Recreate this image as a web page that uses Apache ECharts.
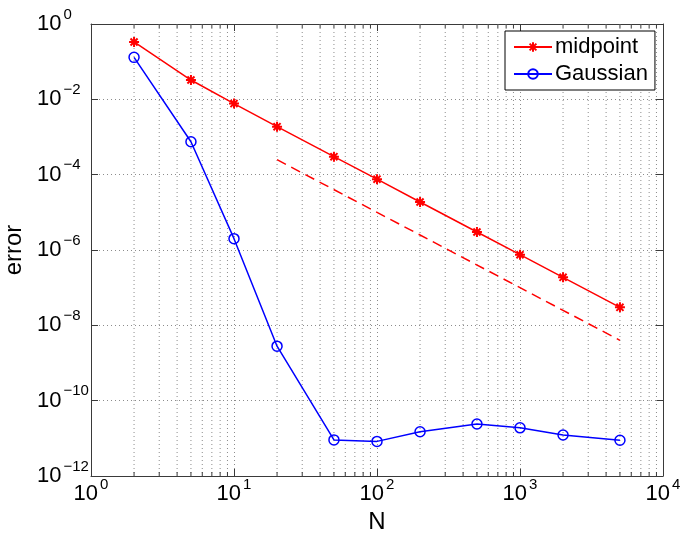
<!DOCTYPE html>
<html>
<head>
<meta charset="utf-8">
<script src="https://cdn.jsdelivr.net/npm/echarts@6/dist/echarts.min.js"></script>
<style>html,body{margin:0;padding:0;background:#fff;}#c{width:685px;height:537px;}</style>
</head>
<body>
<div id="c"></div>
<script>
var N = [2, 5, 10, 20, 50, 100, 200, 500, 1000, 2000, 5000];
var midpoint = [0.333, 0.0326, 0.0077, 0.00188, 3.0e-4, 7.6e-5, 1.88e-5, 3.0e-6, 7.5e-7, 1.88e-7, 3.0e-8];
var gaussian = [0.13, 7.5e-4, 2.0e-6, 2.8e-9, 9.1e-12, 8.3e-12, 1.5e-11, 2.4e-11, 1.9e-11, 1.23e-11, 8.9e-12];
var refN = [20, 5000];
var refLine = [2.5e-4, 4.0e-9];
var xMinor = [2,3,4,5,6,7,8,9,20,30,40,50,60,70,80,90,200,300,400,500,600,700,800,900,2000,3000,4000,5000,6000,7000,8000,9000];
var xTicks = [1, 10, 100, 1000, 10000];
var yTicks = [1, 1e-2, 1e-4, 1e-6, 1e-8, 1e-10, 1e-12];

var FONT = "'Liberation Sans', Arial, Helvetica, sans-serif";
var RED = '#ff0000', BLUE = '#0000ff';
var GRIDC = '#8c8c8c';
var AXC = '#3a3a3a';

function powLabel(v) {
  var e = Math.round(Math.log10(v));
  var s = e < 0 ? '\u2212' + (-e) : '' + e;
  return '{b|10}{s|' + s + '}';
}
var richLab = {
  b: { fontSize: 22, fontFamily: FONT, color: '#000', verticalAlign: 'bottom', lineHeight: 22 },
  s: { fontSize: 15, fontFamily: FONT, color: '#000', verticalAlign: 'bottom', lineHeight: 15, padding: [0, 0, 13, 2] }
};

function pair(xs, ys) { return xs.map(function (x, i) { return [x, ys[i]]; }); }

var STAR = 'path://M0,-10L0,10M-10,0L10,0M-7.07,-7.07L7.07,7.07M-7.07,7.07L7.07,-7.07';

var chart = echarts.init(document.getElementById('c'), null, { renderer: 'canvas' });
var option = {
  animation: false,
  backgroundColor: '#fff',
  textStyle: { fontFamily: FONT },
  grid: { left: 91, top: 24, width: 572, height: 452, containLabel: false, outerBoundsMode: 'none' },
  legend: {
    data: ['midpoint', 'Gaussian'],
    orient: 'vertical',
    left: 505, top: 31,
    backgroundColor: '#fff',
    borderColor: '#000', borderWidth: 1,
    padding: [5, 7, 5, 8],
    itemGap: 5,
    itemWidth: 38, itemHeight: 12,
    textStyle: { fontSize: 22, fontFamily: FONT, color: '#000', padding: [0, 0, 0, -2] }
  },
  xAxis: [{
    type: 'log', logBase: 10, min: 1, max: 10000, interval: 1,
    position: 'bottom',
    axisLine: { show: true, lineStyle: { color: AXC, width: 1 } },
    axisTick: { show: true, inside: true, length: 7, lineStyle: { color: AXC } },
    axisLabel: { margin: 7, formatter: powLabel, rich: richLab },
    splitLine: { show: true, lineStyle: { color: GRIDC, type: [1, 3], width: 1 } },
    name: 'N', nameLocation: 'middle', nameGap: 34,
    nameTextStyle: { fontSize: 24, fontFamily: FONT, color: '#000' }
  }, {
    type: 'log', logBase: 10, min: 1, max: 10000, interval: 1,
    position: 'top',
    axisLine: { show: true, lineStyle: { color: AXC, width: 1 } },
    axisTick: { show: true, inside: true, length: 7, lineStyle: { color: AXC } },
    axisLabel: { show: false },
    splitLine: { show: false }
  }],
  yAxis: [{
    type: 'log', logBase: 10, min: 1e-12, max: 1, interval: 2,
    position: 'left',
    axisLine: { show: true, lineStyle: { color: AXC, width: 1 } },
    axisTick: { show: true, inside: true, length: 7, lineStyle: { color: AXC } },
    axisLabel: { margin: 54, align: 'left', formatter: powLabel, rich: richLab },
    splitLine: { show: true, lineStyle: { color: GRIDC, type: [1, 3], width: 1 } },
    name: 'error', nameLocation: 'middle', nameGap: 57,
    nameTextStyle: { fontSize: 24, fontFamily: FONT, color: '#000' }
  }, {
    type: 'log', logBase: 10, min: 1e-12, max: 1, interval: 2,
    position: 'right',
    axisLine: { show: true, lineStyle: { color: AXC, width: 1 } },
    axisTick: { show: true, inside: true, length: 7, lineStyle: { color: AXC } },
    axisLabel: { show: false },
    splitLine: { show: false }
  }],
  series: [{
    type: 'custom',
    name: 'minorGrid',
    xAxisIndex: 0, yAxisIndex: 0,
    z: 1,
    silent: true,
    data: xMinor.map(function (v) { return [v, 1e-6]; }),
    renderItem: function (params, api) {
      var cs = params.coordSys;
      var px = api.coord([api.value(0), 1e-6])[0];
      var top = cs.y, bot = cs.y + cs.height;
      return {
        type: 'group',
        children: [
          { type: 'line', shape: { x1: px, y1: top, x2: px, y2: bot },
            style: { stroke: GRIDC, lineWidth: 1, lineDash: [1, 3] } },
          { type: 'line', shape: { x1: px, y1: bot, x2: px, y2: bot - 4 },
            style: { stroke: AXC, lineWidth: 1 } },
          { type: 'line', shape: { x1: px, y1: top, x2: px, y2: top + 4 },
            style: { stroke: AXC, lineWidth: 1 } }
        ]
      };
    }
  }, {
    type: 'line', name: 'midpoint',
    data: pair(N, midpoint),
    z: 4,
    symbol: STAR, symbolSize: 10,
    lineStyle: { color: RED, width: 1.5 },
    itemStyle: { color: RED, borderColor: RED, borderWidth: 2 }
  }, {
    type: 'line', name: 'Gaussian',
    data: pair(N, gaussian),
    z: 4,
    symbol: 'circle', symbolSize: 10,
    lineStyle: { color: BLUE, width: 1.5 },
    itemStyle: { color: 'rgba(0,0,0,0)', borderColor: BLUE, borderWidth: 1.5 }
  }, {
    type: 'line', name: 'ref',
    data: pair(refN, refLine),
    z: 3,
    symbol: 'none',
    lineStyle: { color: RED, width: 1.5, type: [10, 6] }
  }]
};
chart.setOption(option);
</script>
</body>
</html>
